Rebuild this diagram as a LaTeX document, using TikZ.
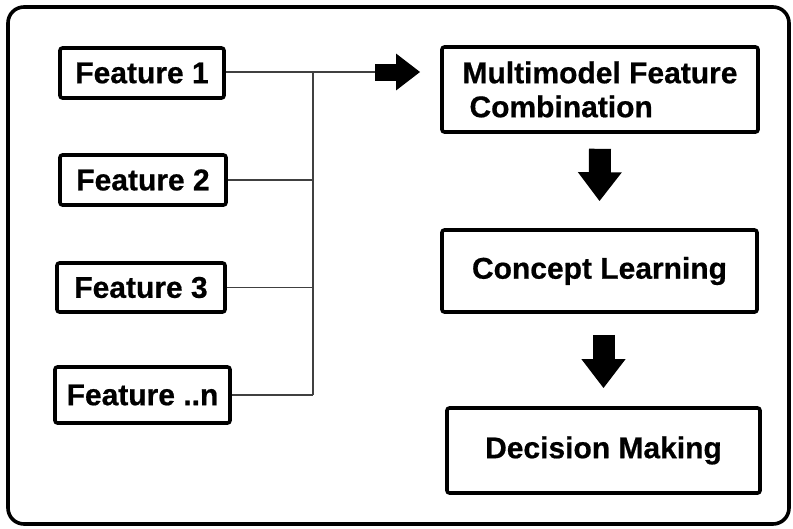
\documentclass[tikz,border=0pt]{standalone}
\usepackage{fontspec}
\setmainfont{Liberation Sans}
\newfontfamily\labelfont{Liberation Sans Bold}[FakeBold=0.6]
\usetikzlibrary{arrows.meta,calc}
\begin{document}
\begin{tikzpicture}[x=1pt,y=-1pt,
  box/.style={draw=black, line width=3.6pt, rounded corners=2.5pt, fill=white,
    inner sep=0pt, align=center, font=\fontsize{30}{34}\labelfont},
  wire/.style={draw=black!75, line width=1.2pt},
  flowright/.style={line width=17pt, -{Triangle[length=24pt,width=35pt]}},
  flowdown/.style={line width=22pt, -{Triangle[length=29pt,width=42pt]}}]
\useasboundingbox (0,0) rectangle (793,528);
% outer frame
\draw[line width=3.6pt, rounded corners=16pt] (8,7) rectangle (789,524);

% input features
\node[box, minimum width=164pt, minimum height=50pt] (f1) at (142,73) {Feature 1};
\node[box, minimum width=166pt, minimum height=50pt] (f2) at (143,180) {Feature 2};
\node[box, minimum width=168pt, minimum height=49pt] (f3) at (141,287.5) {Feature 3};
\node[box, minimum width=175pt, minimum height=56pt] (fn) at (142.5,395) {Feature ..n};

% processing chain
\node[box, minimum width=316pt, minimum height=85pt, align=left] (mm) at (600,89.5)
  {Multimodel Feature\\\hspace*{7pt}Combination};
\node[box, minimum width=315pt, minimum height=82pt] (cl) at (599.5,271) {Concept Learning};
\node[box, minimum width=313pt, minimum height=85pt] (dm) at (603.5,450.5) {Decision Making};

% bus collecting the features
\coordinate (bus) at (313,0);
\coordinate (tail) at (375,72);
\draw[wire] (f1.east |- tail) -- (tail);
\draw[wire] (f2.east) -- (f2.east -| bus);
\draw[wire] (f3.east) -- (f3.east -| bus);
\draw[wire] (fn.east) -- (fn.east -| bus);
\draw[wire] (tail -| bus) -- (fn.east -| bus);

% block arrows
\draw[flowright] (tail) -- ($(mm.west |- tail)+(-20,0)$);
\draw[flowdown] ($(mm.south)+(0,15)$) -- ($(cl.north)+(0,-27)$);
\draw[flowdown] ($(cl.south -| dm.north)+(0,21)$) -- ($(dm.north)+(0,-18)$);
\end{tikzpicture}
\end{document}
